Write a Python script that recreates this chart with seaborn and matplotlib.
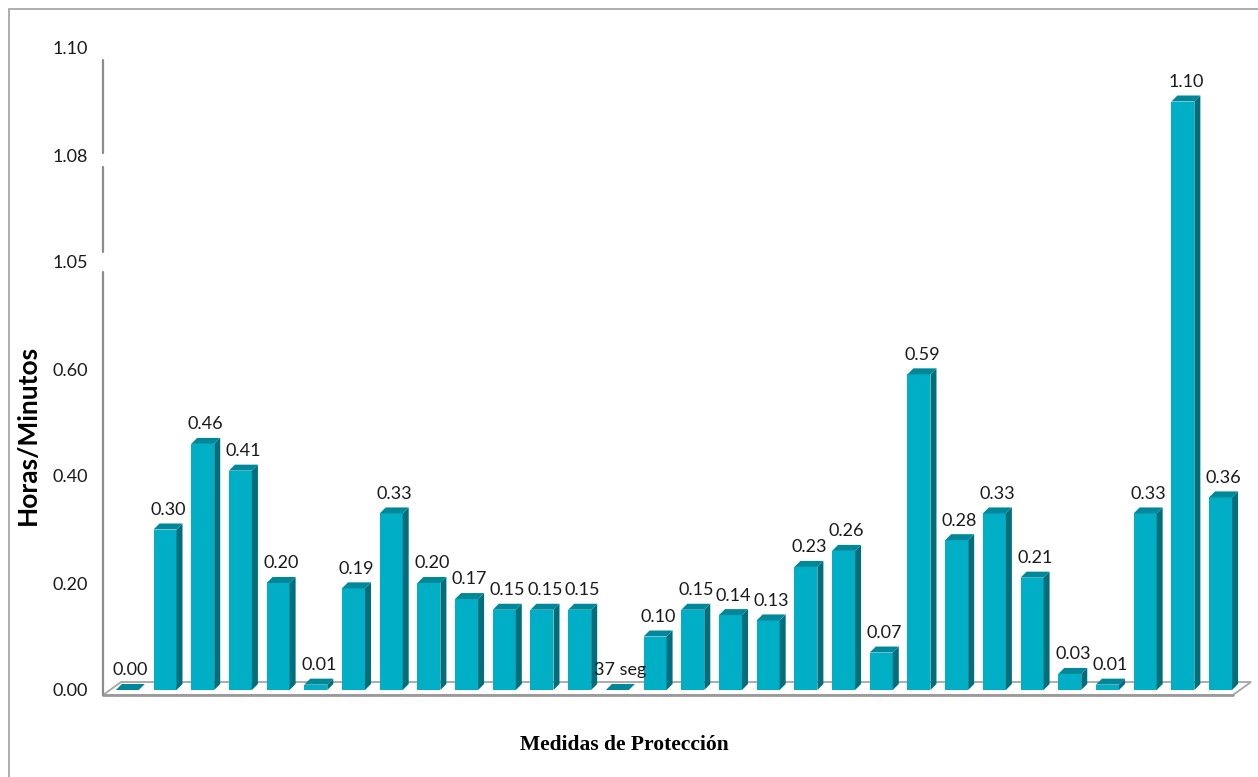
import numpy as np
import pandas as pd
import seaborn as sns
import matplotlib
matplotlib.use("Agg")
import matplotlib.pyplot as plt
from matplotlib.patches import Polygon, Rectangle

# datos
medidas = list(range(1, 31))
valores = [0.00, 0.30, 0.46, 0.41, 0.20, 0.01, 0.19, 0.33, 0.20, 0.17,
           0.15, 0.15, 0.15, 0.00, 0.10, 0.15, 0.14, 0.13, 0.23, 0.26,
           0.07, 0.59, 0.28, 0.33, 0.21, 0.03, 0.01, 0.33, 1.10, 0.36]
etiquetas = ["0.00", "0.30", "0.46", "0.41", "0.20", "0.01", "0.19", "0.33", "0.20", "0.17",
             "0.15", "0.15", "0.15", "37 seg", "0.10", "0.15", "0.14", "0.13", "0.23", "0.26",
             "0.07", "0.59", "0.28", "0.33", "0.21", "0.03", "0.01", "0.33", "1.10", "0.36"]
# eje "cortado": posiciones lineales, textos de la escala original
yticks = [0.0, 0.2, 0.4, 0.6, 0.8, 1.0, 1.2]
ytick_labels = ["0.00", "0.20", "0.40", "0.60", "1.05", "1.08", "1.10"]

c_front = "#00AFC6"
c_side = "#006E7B"
c_top = "#00889A"

sns.set_style("white")
plt.rcParams['font.family'] = ['Lato', 'DejaVu Sans']

W, H = 1258, 777
fig = plt.figure(figsize=(W / 100, H / 100), dpi=100)
# marco exterior
fig.patches.append(Rectangle((9 / W, -0.1), 1.2, (777 - 9) / H + 0.1, transform=fig.transFigure,
                             fill=False, edgecolor="#A0A0A0", lw=1.2))

ax = fig.add_axes([103 / W, (H - 690) / H, 1130 / W, 642 / H])
df = pd.DataFrame({"medida": medidas, "valor": valores})
sns.barplot(data=df, x="medida", y="valor", color=c_front, saturation=1,
            width=0.61, ax=ax, zorder=3)

xmin, xmax = -0.645, 29.33
ax.set_xlim(xmin, xmax)
ax.set_ylim(0, 1.2)

px_x = (xmax - xmin) / 1130
px_y = 1.2 / 642
dx, dy = 6 * px_x, 6 * px_y

# piso 3D
fdx, f_front, f_back = 18 * px_x, -5 * px_y, 8 * px_y
ax.add_patch(Polygon([(xmin, f_front), (xmax, f_front), (xmax + fdx, f_back), (xmin + fdx, f_back)],
                     closed=True, facecolor="white", edgecolor="#A6A6A6", lw=1.3,
                     clip_on=False, zorder=1))
ax.plot([xmin, xmax], [f_front, f_front], color="#9A9A9A", lw=2, clip_on=False, zorder=2)

# caras laterales y superiores de las barras
for p, txt in zip(ax.patches, etiquetas):
    x0, w, h = p.get_x(), p.get_width(), p.get_height()
    p.set_edgecolor("none")
    ax.add_patch(Polygon([(x0 + w, 0), (x0 + w + dx, dy), (x0 + w + dx, h + dy), (x0 + w, h)],
                         closed=True, facecolor=c_side, edgecolor="none", zorder=3, clip_on=False))
    ax.add_patch(Polygon([(x0, h), (x0 + dx, h + dy), (x0 + w + dx, h + dy), (x0 + w, h)],
                         closed=True, facecolor=c_top, edgecolor="none", zorder=3, clip_on=False))
    ax.annotate(txt, (x0 + w / 2 + dx / 2, h + dy), xytext=(0, 4), textcoords="offset points",
                ha="center", va="bottom", fontsize=13, color="#1a1a1a", zorder=5)

# eje vertical con cortes
for y0, y1 in [(1.178, 1.004), (0.978, 0.819), (0.781, f_front)]:
    ax.plot([xmin, xmin], [y0, y1], color="#8C8C8C", lw=1.6, clip_on=False, zorder=4)

sns.despine(ax=ax, left=True, bottom=True)
ax.set_yticks(yticks)
ax.set_yticklabels(ytick_labels, fontsize=13, color="#1a1a1a")
ax.set_xticks([])
ax.tick_params(axis="y", length=0, pad=11)

ax.set_ylabel("Horas/Minutos", fontsize=19, fontweight="bold", color="black")
ax.yaxis.set_label_coords(-0.0555, 0.397)
ax.set_xlabel("Medidas de Protección", fontsize=15.5, fontweight="bold",
              family=["Liberation Serif", "DejaVu Serif"], color="black")
ax.xaxis.set_label_coords(0.461, -0.0857)
ax.xaxis.label.set_verticalalignment("center")

fig.savefig("out.png", dpi=100)
